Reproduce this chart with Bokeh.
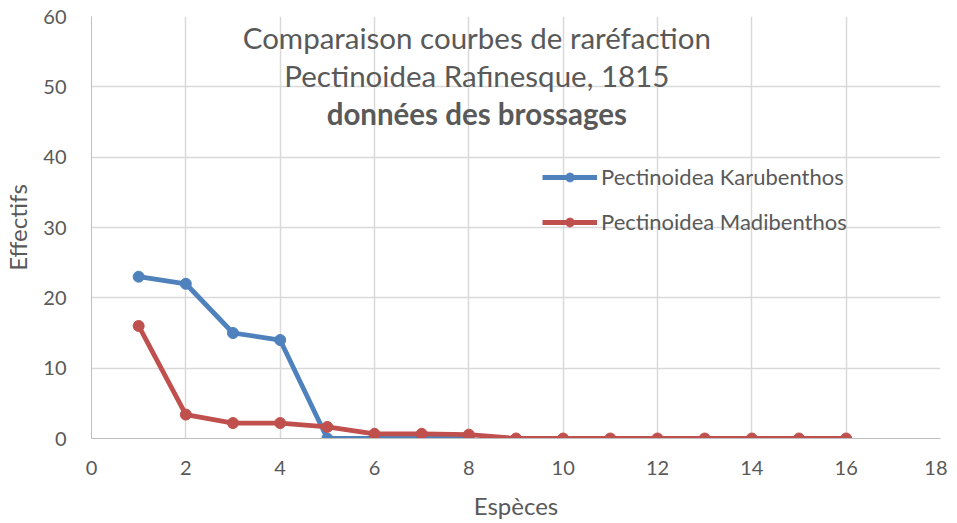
from bokeh.plotting import figure
from bokeh.models import Range1d, SingleIntervalTicker, Legend, LegendItem, Label
from bokeh.embed import file_html
from bokeh.resources import INLINE

x_kar = [1, 2, 3, 4, 5, 6, 7, 8]
y_kar = [23, 22, 15, 14, 0, 0, 0, 0]
x_mad = [1, 2, 3, 4, 5, 6, 7, 8, 9, 10, 11, 12, 13, 14, 15, 16]
y_mad = [16, 3.4, 2.2, 2.2, 1.65, 0.67, 0.67, 0.55, 0, 0, 0, 0, 0, 0, 0, 0]
title_lines = ["Comparaison courbes de raréfaction", "Pectinoidea Rafinesque, 1815", "données des brossages"]
series_names = ["Pectinoidea Karubenthos", "Pectinoidea Madibenthos"]

FONT = "Lato"
GREY = "#595959"
BLUE = "#4f81bd"
RED = "#c0504d"

p = figure(frame_width=849, frame_height=422, output_backend="svg", toolbar_location=None,
           x_range=Range1d(0, 18), y_range=Range1d(0, 60),
           min_border_left=84, min_border_right=7, min_border_top=16, min_border_bottom=74)
p.outline_line_color = None

p.xaxis.ticker = SingleIntervalTicker(interval=2)
p.yaxis.ticker = SingleIntervalTicker(interval=10)
for ax in (p.xaxis, p.yaxis):
    ax.major_tick_line_color = None
    ax.minor_tick_line_color = None
    ax.major_tick_out = 0
    ax.major_tick_in = 0
    ax.axis_line_color = "#bfbfbf"
    ax.major_label_text_font = FONT
    ax.major_label_text_font_size = "20px"
    ax.major_label_text_color = GREY
    ax.axis_label_text_font = FONT
    ax.axis_label_text_font_size = "24px"
    ax.axis_label_text_font_style = "normal"
    ax.axis_label_text_color = GREY
p.xaxis.major_label_standoff = 18
p.yaxis.major_label_standoff = 21
p.xaxis.axis_label = "Espèces"
p.yaxis.axis_label = "Effectifs"
p.xaxis.axis_label_standoff = 13
p.yaxis.axis_label_standoff = 8
p.grid.grid_line_color = "#d9d9d9"
p.grid.grid_line_width = 1.5

r1 = p.line(x_kar, y_kar, line_color=BLUE, line_width=4.8)
s1 = p.scatter(x_kar, y_kar, size=11, fill_color=BLUE, line_color=BLUE)
r2 = p.line(x_mad, y_mad, line_color=RED, line_width=4.8)
s2 = p.scatter(x_mad, y_mad, size=11, fill_color=RED, line_color=RED)

legend = Legend(items=[LegendItem(label=series_names[0], renderers=[r1, s1]),
                       LegendItem(label=series_names[1], renderers=[r2, s2])],
                location=(451, 203), background_fill_alpha=0, border_line_color=None,
                label_text_font=FONT, label_text_font_size="22px", label_text_color=GREY,
                glyph_width=55, glyph_height=22, label_height=22, spacing=18,
                padding=0, margin=0, label_standoff=4)
p.add_layout(legend)

title_y = [57.0, 51.6, 46.2]
for i, t in enumerate(title_lines):
    p.add_layout(Label(x=8.17, y=title_y[i], text=t, text_align="center", text_baseline="middle",
                       text_font=FONT, text_font_size="29.5px", text_color=GREY,
                       text_font_style="bold" if i == 2 else "normal"))

open("out.html", "w").write(file_html(p, INLINE))
